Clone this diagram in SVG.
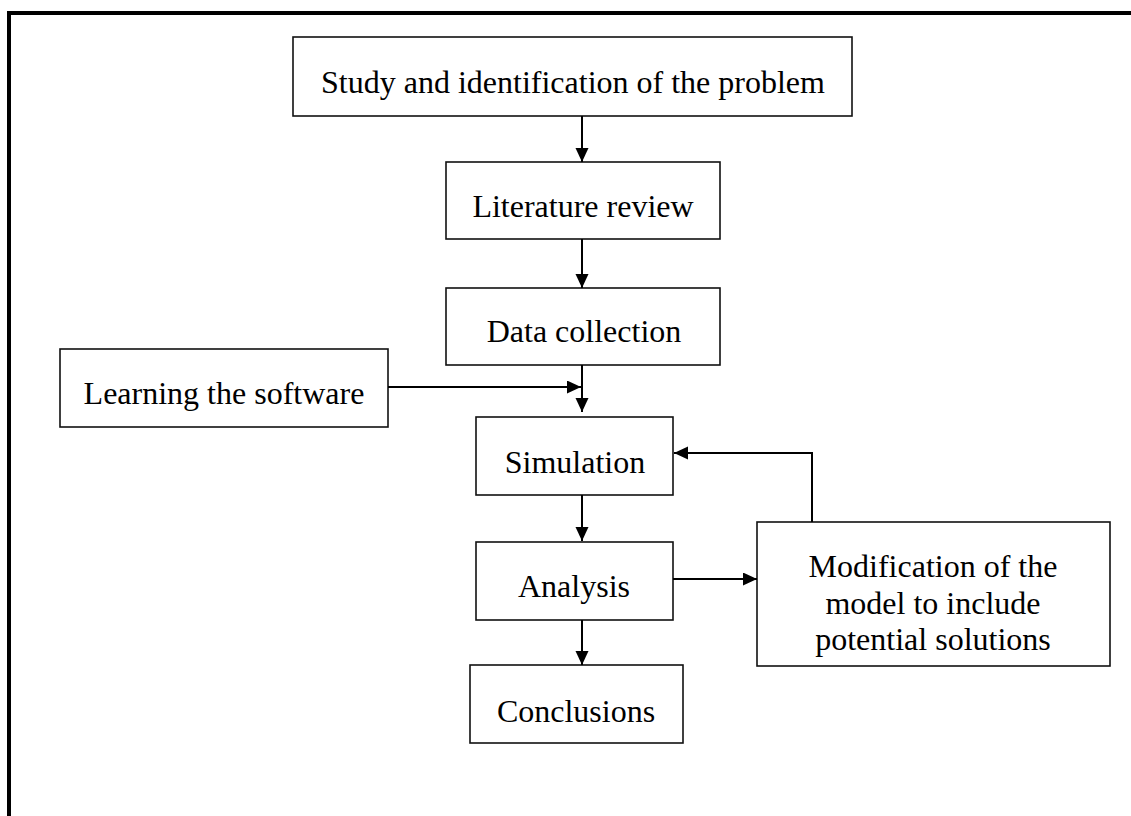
<svg xmlns="http://www.w3.org/2000/svg" width="1131" height="816" viewBox="0 0 1131 816">
<style>
.box{fill:#fff;stroke:#111;stroke-width:1.6}
.t{font-family:"Liberation Serif","Times New Roman",serif;font-size:32px;fill:#000;text-anchor:middle}
.c{fill:none;stroke:#000;stroke-width:2}
.frame{fill:none;stroke:#000;stroke-width:4}
</style>
<defs>
<marker id="ah" markerUnits="userSpaceOnUse" markerWidth="14" markerHeight="14" refX="14" refY="6.5" orient="auto">
<path d="M0,0 L14,6.5 L0,13 z" fill="#000"/>
</marker>
</defs>
<rect width="1131" height="816" fill="#fff"/>
<path class="frame" d="M9,816 V13 H1131"/>
<g id="n-study"><rect class="box" x="293" y="37" width="559" height="79"/><text class="t" x="573" y="93">Study and identification of the problem</text></g>
<g id="n-literature"><rect class="box" x="446" y="162" width="274" height="77"/><text class="t" x="583" y="217">Literature review</text></g>
<g id="n-data"><rect class="box" x="446" y="288" width="274" height="77"/><text class="t" x="584" y="342">Data collection</text></g>
<g id="n-learning"><rect class="box" x="60" y="349" width="328" height="78"/><text class="t" x="224" y="404">Learning the software</text></g>
<g id="n-simulation"><rect class="box" x="476" y="417" width="197" height="78"/><text class="t" x="575" y="473">Simulation</text></g>
<g id="n-analysis"><rect class="box" x="476" y="542" width="197" height="78"/><text class="t" x="574" y="597">Analysis</text></g>
<g id="n-modification"><rect class="box" x="757" y="522" width="353" height="144"/><text class="t" x="933" y="577">Modification of the</text><text class="t" x="933" y="614">model to include</text><text class="t" x="933" y="650">potential solutions</text></g>
<g id="n-conclusions"><rect class="box" x="470" y="665" width="213" height="78"/><text class="t" x="576" y="722">Conclusions</text></g>
<g id="connectors">
<path class="c" d="M582,116 V162" marker-end="url(#ah)"/>
<path class="c" d="M582,239 V288" marker-end="url(#ah)"/>
<path class="c" d="M582,365 V412" marker-end="url(#ah)"/>
<path class="c" d="M388,387 H581" marker-end="url(#ah)"/>
<path class="c" d="M582,495 V541" marker-end="url(#ah)"/>
<path class="c" d="M673,579 H757" marker-end="url(#ah)"/>
<path class="c" d="M812,522 V453 H674" marker-end="url(#ah)"/>
<path class="c" d="M582,620 V665" marker-end="url(#ah)"/>
</g>
</svg>
